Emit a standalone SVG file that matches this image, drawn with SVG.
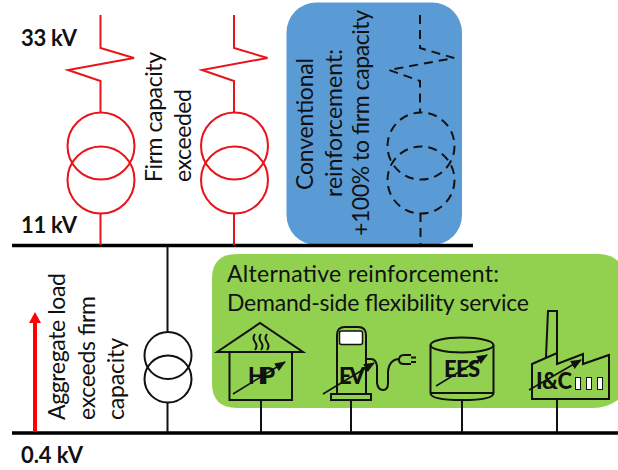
<svg xmlns="http://www.w3.org/2000/svg" width="618" height="470" viewBox="0 0 618 470">
<defs>
<style>
text{font-family:"Lato","Liberation Sans",sans-serif;fill:#111}
.b{font-weight:700;font-size:22px}
.l{font-size:23px}
.r{fill:none;stroke:#e8141c;stroke-width:2}
.d{fill:none;stroke:#111;stroke-width:2;stroke-dasharray:9 6}
.k{fill:none;stroke:#111;stroke-width:2}
.ic{fill:none;stroke:#111;stroke-width:2}
.ar{fill:none;stroke:#111;stroke-width:1.500}
.bus{stroke:#000;stroke-width:3.500;fill:none}
.t{font-weight:900;font-size:22px}
.w{fill:#fff;stroke:#111;stroke-width:1}
</style>
<marker id="ah" markerUnits="userSpaceOnUse" markerWidth="12" markerHeight="10" refX="10" refY="4.500" orient="auto"><path d="M0 0L11 4.500L0 9Z" fill="#111"/></marker>
</defs>
<rect width="618" height="470" fill="#fff"/>
<g id="conventional-box"><rect x="286.500" y="2.500" width="175.500" height="242.500" rx="30" fill="#5b9bd5"/></g>
<g id="alternative-box"><path d="M237 254H600Q612 255 618 261V400Q606 408 593 408H237Q212 408 212 383V279Q212 254 237 254Z" fill="#92d050"/>
<text class="l" x="227" y="282" textLength="272">Alternative reinforcement:</text>
<text class="l" x="227" y="311" textLength="302">Demand-side flexibility service</text></g>
<g id="connectors">
<path class="bus" d="M12 245.500H473M12 433H618"/>
<path class="k" d="M167.500 246V333M167.500 403V432M261 400V432M351 400V432M462 400V432M557 400V432"/>
<path d="M35 432V322" stroke="#f00" stroke-width="4" fill="none"/><path d="M29 323L35 312L41 323Z" fill="#f00"/>
</g>
<g id="t1"><path class="r" d="M100.500 15V48L134 58L68 70L100.500 81V112M100.500 213V245"/><circle class="r" cx="101" cy="146" r="33.500"/><circle class="r" cx="101" cy="180" r="33.500"/></g>
<g id="t2"><path class="r" d="M234 15V48L267.500 58L202 70L234 81V112M234 213V245"/><circle class="r" cx="234.500" cy="146" r="33.500"/><circle class="r" cx="234.500" cy="180" r="33.500"/></g>
<g id="t3"><path class="d" d="M420 15V48L454 58L389 70L420 81V112M420.500 213V245"/><circle class="d" cx="421" cy="146" r="33.500"/><circle class="d" cx="421" cy="180" r="33.500"/></g>
<g id="t4"><circle class="k" cx="168" cy="355.500" r="23.500"/><circle class="k" cx="168" cy="379" r="23.500"/></g>
<g id="labels">
<text class="b" x="21" y="46" textLength="56">33 kV</text>
<text class="b" x="21" y="233" textLength="56">11 kV</text>
<text class="b" x="21" y="463" textLength="62">0.4 kV</text>
<text class="l" transform="translate(162 182) rotate(-90)" textLength="130">Firm capacity</text>
<text class="l" transform="translate(191 182) rotate(-90)" textLength="93">exceeded</text>
<text class="l" transform="translate(313 190) rotate(-90)" textLength="132">Conventional</text>
<text class="l" transform="translate(342 197) rotate(-90)" textLength="148">reinforcement:</text>
<text class="l" transform="translate(369 236) rotate(-90)" textLength="226">+100% to firm capacity</text>
<text class="l" transform="translate(65 420) rotate(-90)" textLength="147">Aggregate load</text>
<text class="l" transform="translate(95 420) rotate(-90)" textLength="124">exceeds firm</text>
<text class="l" transform="translate(124 420) rotate(-90)" textLength="82">capacity</text>
</g>
<g id="hp"><path class="ic" d="M217 352L260 323L303 352ZM229.500 352V400H292V352"/>
<path class="ic" d="M255 334q-3 4 0 8t0 8M261 334q-3 4 0 8t0 8M267 334q-3 4 0 8t0 8" stroke-width="1.300"/>
<text class="t" x="248" y="384" textLength="27">HP</text>
<path class="ar" d="M233 394L285 362" marker-end="url(#ah)"/></g>
<g id="ev"><path class="ic" d="M337 394V335Q337 327 345 327H358Q366 327 366 335V394M331 394H371V400H331Z"/>
<rect x="339.500" y="331" width="23" height="13.500" rx="2" fill="#fff" stroke="#111" stroke-width="1.500"/>
<path class="ic" d="M366 359H371Q376 359 377 366V383Q378 390 383 390Q388 390 388 383V372Q389 359 400 359"/>
<path class="ic" d="M411 355H404Q399 355 399 360Q399 364 404 364H411M411 357.500H416M411 362H416" stroke-width="1.500"/>
<text class="t" x="339" y="384" textLength="26">EV</text>
<path class="ar" d="M323 394L374 363" marker-end="url(#ah)"/></g>
<g id="ees"><ellipse class="ic" cx="462" cy="345" rx="31.500" ry="7.500"/><path class="ic" d="M430.500 345V393Q430.500 400 462 400Q493.500 400 493.500 393V345M430.500 393H493.500"/>
<text class="t" x="444" y="377" textLength="36">EES</text>
<path class="ar" d="M436 386L487 355" marker-end="url(#ah)"/></g>
<g id="ic"><path class="ic" d="M546 357L548 311H557L557 353M532 364L557 353V364L583 354V364L609 355V399H532Z"/>
<rect class="w" x="575.500" y="377.500" width="5" height="12"/><rect class="w" x="586.500" y="377.500" width="5" height="12"/><rect class="w" x="597.500" y="377.500" width="5" height="12"/>
<text class="t" x="536" y="389" textLength="36">I&amp;C</text>
<path class="ar" d="M529 390L581 360" marker-end="url(#ah)"/></g>
</svg>
